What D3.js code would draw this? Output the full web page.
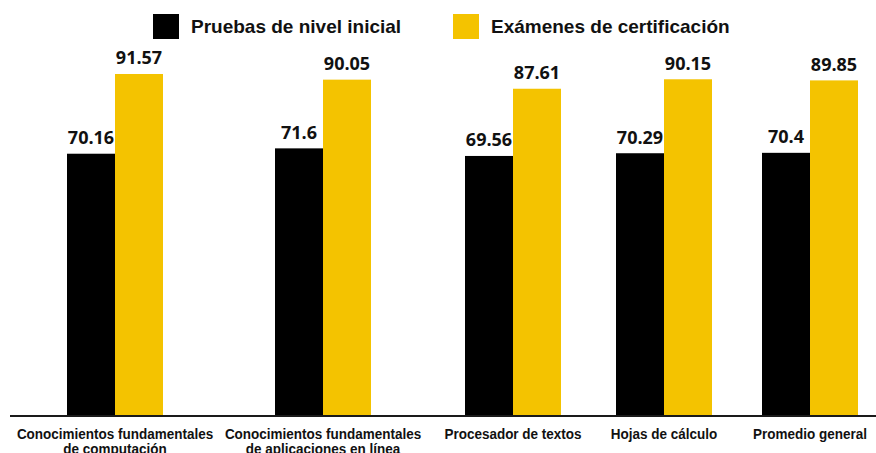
<!DOCTYPE html>
<html>
<head>
<meta charset="utf-8">
<script src="https://cdn.jsdelivr.net/npm/d3@7/dist/d3.min.js"></script>
<style>
  html, body { margin: 0; padding: 0; background: #fff; }
  svg { display: block; }
</style>
</head>
<body>
<div id="chart"></div>
<script>
/* datos del gráfico */
const categorias = [
  'Conocimientos fundamentales de computación',
  'Conocimientos fundamentales de aplicaciones en línea',
  'Procesador de textos',
  'Hojas de cálculo',
  'Promedio general'
];
const etiquetas = [
  ['Conocimientos fundamentales', 'de computación'],
  ['Conocimientos fundamentales', 'de aplicaciones en línea'],
  ['Procesador de textos'],
  ['Hojas de cálculo'],
  ['Promedio general']
];
const series = ['Pruebas de nivel inicial', 'Exámenes de certificación'];
const pruebasInicial = [70.16, 71.6, 69.56, 70.29, 70.4];
const examenesCert  = [91.57, 90.05, 87.61, 90.15, 89.85];

/* --- layout ---------------------------------------------------------- */
const W = 876, H = 453;
const baseY = 415;
const centros = [115, 323, 513, 664, 810];   // centro de cada grupo
const barW = 48;
const colores = ['#000000', '#f4c300'];
const FONT = '"Liberation Sans", Arial, sans-serif';
const FONT_NUM = '"Open Sans", "Liberation Sans", sans-serif';

const svg = d3.select('#chart').append('svg')
  .attr('width', W).attr('height', H);

const x = d3.scaleOrdinal().domain(categorias).range(centros);
const xs = d3.scaleBand().domain(series).range([-barW, barW]).padding(0);
const y = d3.scaleLinear().domain([0, 100]).range([baseY, baseY - 372.4]);
const color = d3.scaleOrdinal().domain(series).range(colores);

const filas = categorias.map(function (c, i) {
  return { cat: c, vals: [pruebasInicial[i], examenesCert[i]] };
});

/* --- barras ---------------------------------------------------------- */
const grupos = svg.append('g').selectAll('g').data(filas).join('g')
  .attr('transform', function (d) { return 'translate(' + x(d.cat) + ',0)'; });

grupos.selectAll('rect')
  .data(function (d) { return series.map(function (s, j) { return { s: s, v: d.vals[j] }; }); })
  .join('rect')
  .attr('x', function (d) { return xs(d.s); })
  .attr('width', xs.bandwidth())
  .attr('y', function (d) { return y(d.v); })
  .attr('height', function (d) { return baseY - y(d.v); })
  .attr('fill', function (d) { return color(d.s); });

/* valores encima de cada barra */
grupos.selectAll('text.val')
  .data(function (d) { return series.map(function (s, j) { return { s: s, v: d.vals[j] }; }); })
  .join('text')
  .attr('class', 'val')
  .attr('x', function (d) { return xs(d.s) + xs.bandwidth() / 2; })
  .attr('y', function (d) { return y(d.v) - 9.5; })
  .attr('text-anchor', 'middle')
  .attr('font-family', FONT_NUM)
  .attr('font-weight', 700)
  .attr('font-size', 18)
  .attr('fill', '#111')
  .text(function (d) { return String(d.v); });

/* --- eje x ----------------------------------------------------------- */
svg.append('line')
  .attr('x1', 10).attr('x2', W)
  .attr('y1', baseY + 1).attr('y2', baseY + 1)
  .attr('stroke', '#1a1a1a').attr('stroke-width', 2);

/* rótulos condensados: fuente algo mayor, comprimida en horizontal */
const ticks = svg.append('g').selectAll('text').data(categorias).join('text')
  .attr('transform', function (d) { return 'translate(' + x(d) + ',' + (baseY + 23.5) + ') scale(0.9,1)'; })
  .attr('text-anchor', 'middle')
  .attr('font-family', FONT)
  .attr('font-weight', 700)
  .attr('font-size', 15)
  .attr('fill', '#111');

ticks.each(function (d, i) {
  d3.select(this).selectAll('tspan').data(etiquetas[i]).join('tspan')
    .attr('x', 0)
    .attr('dy', function (t, k) { return k === 0 ? 0 : 15.5; })
    .text(function (t) { return t; });
});

/* --- leyenda --------------------------------------------------------- */
const leyX = [153, 453];
const ley = svg.append('g').selectAll('g').data(series).join('g')
  .attr('transform', function (d, i) { return 'translate(' + leyX[i] + ',14)'; });
ley.append('rect')
  .attr('width', 26).attr('height', 25)
  .attr('fill', function (d) { return color(d); });
ley.append('text')
  .attr('x', 38).attr('y', 19)
  .attr('font-family', FONT)
  .attr('font-weight', 700)
  .attr('font-size', 19)
  .attr('fill', '#111')
  .text(function (d) { return d; });
</script>
</body>
</html>
